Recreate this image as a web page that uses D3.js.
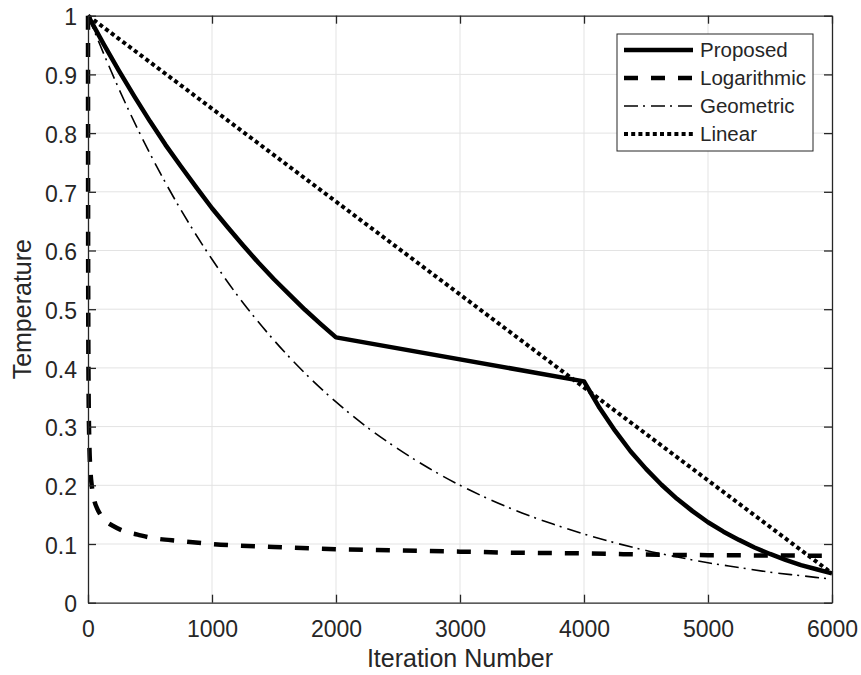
<!DOCTYPE html>
<html>
<head>
<meta charset="utf-8">
<script src="https://cdn.jsdelivr.net/npm/d3@7"></script>
<style>
  html, body { margin: 0; padding: 0; background: #fff; overflow: hidden; }
  svg { display: block; }
  text { font-family: "Liberation Sans", Arial, Helvetica, sans-serif; fill: #262626; }
</style>
</head>
<body>
<svg id="cooling-plot"></svg>
<script>
// data
const proposedX = [0, 125, 250, 375, 500, 625, 750, 875, 1000, 1125, 1250, 1375, 1500, 1625, 1750, 1875, 2000,
  4000, 4125, 4250, 4375, 4500, 4625, 4750, 4875, 5000, 5125, 5250, 5375, 5500, 5625, 5750, 5875, 6000];
const proposedY = [1, 0.952, 0.906, 0.862, 0.82, 0.78, 0.743, 0.707, 0.672, 0.64, 0.609, 0.579, 0.551, 0.525, 0.499, 0.475, 0.452,
  0.377, 0.332, 0.293, 0.258, 0.228, 0.201, 0.177, 0.156, 0.137, 0.121, 0.107, 0.094, 0.083, 0.073, 0.064, 0.057, 0.05];

const logX = [0, 1, 2, 5, 10, 20, 30, 50, 75, 100, 150, 200, 300, 400, 500, 750, 1000, 1500, 2000, 2500, 3000, 3500, 4000, 4500, 5000, 5500, 6000];
const logY = [1, 0.631, 0.5, 0.356, 0.279, 0.224, 0.2, 0.175, 0.16, 0.15, 0.138, 0.131, 0.121, 0.116, 0.111, 0.105, 0.1, 0.095, 0.091, 0.089, 0.087, 0.085, 0.084, 0.082, 0.081, 0.0805, 0.08];

const geoX = [0, 250, 500, 750, 1000, 1250, 1500, 1750, 2000, 2250, 2500, 2750, 3000, 3250, 3500, 3750, 4000, 4250, 4500, 4750, 5000, 5250, 5500, 5750, 6000];
const geoY = [1, 0.875, 0.765, 0.669, 0.585, 0.511, 0.447, 0.391, 0.342, 0.299, 0.262, 0.229, 0.2, 0.175, 0.153, 0.134, 0.117, 0.102, 0.089, 0.078, 0.068, 0.06, 0.052, 0.046, 0.04];

const linearX = [0, 6000];
const linearY = [1, 0.05];

const xTicks = [0, 1000, 2000, 3000, 4000, 5000, 6000];
const yTicks = [0, 0.1, 0.2, 0.3, 0.4, 0.5, 0.6, 0.7, 0.8, 0.9, 1];
const yTickLabels = ["0", "0.1", "0.2", "0.3", "0.4", "0.5", "0.6", "0.7", "0.8", "0.9", "1"];

const seriesNames = ["Proposed", "Logarithmic", "Geometric", "Linear"];

const width = 861;
const height = 675;
const svg = d3.select("#cooling-plot").attr("width", width).attr("height", height);

const margin = { top: 15.7, bottom: 72.3, left: 88, right: 29 };
const innerWidth = width - margin.left - margin.right;
const innerHeight = height - margin.top - margin.bottom;

const xScale = d3.scaleLinear().domain([0, 6000]).range([0, innerWidth]);
const yScale = d3.scaleLinear().domain([0, 1]).range([innerHeight, 0]);

const g = svg.append("g").attr("transform", `translate(${margin.left},${margin.top})`);

// grid
g.append("g")
  .selectAll("line")
  .data(xTicks.slice(1, -1))
  .join("line")
  .attr("x1", (d) => xScale(d))
  .attr("x2", (d) => xScale(d))
  .attr("y1", 0)
  .attr("y2", innerHeight)
  .attr("stroke", "#e3e3e3")
  .attr("stroke-width", 1);
g.append("g")
  .selectAll("line")
  .data(yTicks.slice(1, -1))
  .join("line")
  .attr("x1", 0)
  .attr("x2", innerWidth)
  .attr("y1", (d) => yScale(d))
  .attr("y2", (d) => yScale(d))
  .attr("stroke", "#e3e3e3")
  .attr("stroke-width", 1);

// lines
g.append("clipPath").attr("id", "clip")
  .append("rect").attr("x", -3).attr("y", -3).attr("width", innerWidth + 6).attr("height", innerHeight + 6);

const styles = [
  { w: 4.5, dash: null, curve: d3.curveLinear },
  { w: 4.5, dash: "14,13", curve: d3.curveMonotoneX },
  { w: 1.6, dash: "14,5,2,6", curve: d3.curveMonotoneX },
  { w: 4, dash: "4,3.2", curve: d3.curveLinear },
];
const series = [
  d3.zip(proposedX, proposedY),
  d3.zip(logX, logY),
  d3.zip(geoX, geoY),
  d3.zip(linearX, linearY),
];

const plotG = g.append("g").attr("clip-path", "url(#clip)");
series.forEach((s, i) => {
  const lineGen = d3.line()
    .x((d) => xScale(d[0]))
    .y((d) => yScale(d[1]))
    .curve(styles[i].curve);
  plotG.append("path")
    .attr("d", lineGen(s))
    .attr("fill", "none")
    .attr("stroke", "#000")
    .attr("stroke-width", styles[i].w)
    .attr("stroke-dasharray", styles[i].dash)
    .attr("stroke-linejoin", "round");
});

// axes (box on, ticks inside)
const tickLen = 8;
const axisColor = "#262626";

const xAxis = d3.axisBottom(xScale).tickValues(xTicks).tickFormat(d3.format("d"))
  .tickSizeInner(-tickLen).tickSizeOuter(0);
const xAxisG = g.append("g").attr("transform", `translate(0,${innerHeight})`).call(xAxis);
xAxisG.selectAll("text").attr("font-size", 23).attr("y", 34).attr("dy", "0");
const xTop = d3.axisTop(xScale).tickValues(xTicks).tickSizeInner(-tickLen).tickSizeOuter(0);
const xTopG = g.append("g").call(xTop);
xTopG.selectAll("text").remove();

const yAxis = d3.axisLeft(yScale).tickValues(yTicks).tickFormat((d, i) => yTickLabels[i])
  .tickSizeInner(-tickLen).tickSizeOuter(0);
const yAxisG = g.append("g").call(yAxis);
yAxisG.selectAll("text").attr("font-size", 23).attr("x", -11).attr("dy", "0.4em");
const yRight = d3.axisRight(yScale).tickValues(yTicks).tickSizeInner(-tickLen).tickSizeOuter(0);
const yRightG = g.append("g").attr("transform", `translate(${innerWidth},0)`).call(yRight);
yRightG.selectAll("text").remove();

g.selectAll(".domain").attr("stroke", axisColor).attr("stroke-width", 1.3);
g.selectAll(".tick line").attr("stroke", axisColor).attr("stroke-width", 1.3);
g.selectAll(".tick text").attr("fill", axisColor).attr("font-family", "Liberation Sans, Arial, sans-serif");

// axis titles
g.append("text")
  .attr("x", innerWidth / 2)
  .attr("y", innerHeight + 64)
  .attr("text-anchor", "middle")
  .attr("font-size", 25)
  .text("Iteration Number");

g.append("text")
  .attr("transform", "rotate(-90)")
  .attr("x", -innerHeight / 2)
  .attr("y", -57)
  .attr("text-anchor", "middle")
  .attr("font-size", 25)
  .text("Temperature");

// legend
const legend = { x: 617, y: 34, w: 196, h: 117, row: 28 };
const lg = svg.append("g");
lg.append("rect")
  .attr("x", legend.x)
  .attr("y", legend.y)
  .attr("width", legend.w)
  .attr("height", legend.h)
  .attr("fill", "#fff")
  .attr("stroke", axisColor)
  .attr("stroke-width", 1);

seriesNames.forEach((name, i) => {
  const cy = legend.y + 16 + i * legend.row;
  lg.append("line")
    .attr("x1", legend.x + 7)
    .attr("x2", legend.x + 76)
    .attr("y1", cy)
    .attr("y2", cy)
    .attr("stroke", "#000")
    .attr("stroke-width", styles[i].w)
    .attr("stroke-dasharray", styles[i].dash);
  lg.append("text")
    .attr("x", legend.x + 83)
    .attr("y", cy)
    .attr("dy", "0.36em")
    .attr("font-size", 20.5)
    .attr("fill", "#000")
    .text(name);
});
</script>
</body>
</html>
